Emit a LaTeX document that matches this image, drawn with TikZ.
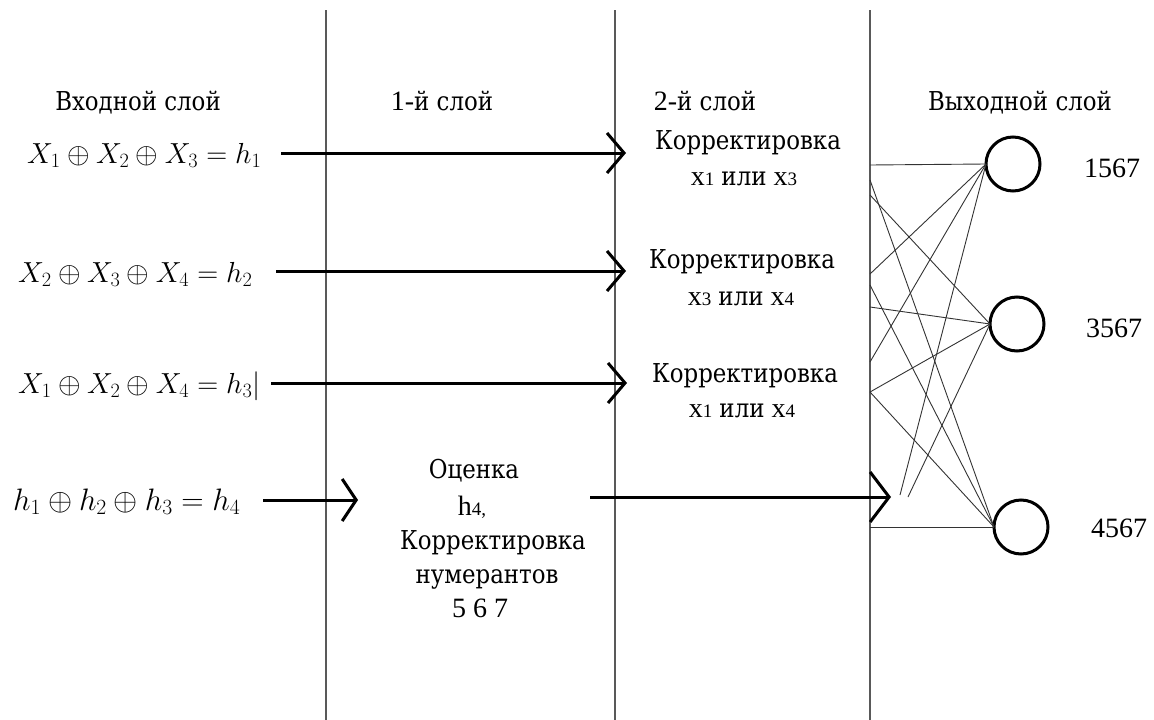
\RequirePackage{fix-cm}
\documentclass[tikz,border=0pt]{standalone}
\usepackage{fontspec}
\setmainfont{Liberation Serif}
\newfontfamily\cyr{DejaVu Serif}[FakeStretch=0.88]
\usetikzlibrary{arrows.meta}
\newcommand{\sm}[1]{{\fontsize{19}{19}\selectfont #1}}
\newcommand{\ru}[1]{{\cyr\fontsize{26}{34}\selectfont #1}}
\begin{document}
\begin{tikzpicture}[x=1pt,y=-1pt,
  txt/.style={font=\fontsize{28}{34}\selectfont, inner sep=0pt, anchor=base},
  eq/.style={font=\fontsize{29}{36}\selectfont, inner sep=0pt, anchor=base west},
  layer/.style={line width=1.3pt, draw=black!65},
  bigarrow/.style={line width=3pt, -{Straight Barb[length=17pt,width=40pt,line width=3pt]}},
  net/.style={line width=0.9pt, draw=black!80},
  neuron/.style={circle, draw, line width=3pt, minimum size=54pt, inner sep=0pt, outer sep=0pt},
]
\useasboundingbox (0,0) rectangle (1154,720);

% layer separators
\coordinate (s1t) at (326,10);  \coordinate (s1b) at (326,720);
\coordinate (s2t) at (615,10);  \coordinate (s2b) at (615,720);
\coordinate (s3t) at (870,10);  \coordinate (s3b) at (870,720);
\draw[layer] (s1t) -- (s1b);
\draw[layer] (s2t) -- (s2b);
\draw[layer] (s3t) -- (s3b);

% headers
\node[txt] (hin)  at (138,110) {\ru{Входной слой}};
\node[txt] (hl1)  at (442,110) {1-\ru{й слой}};
\node[txt] (hl2)  at (705,110) {2-\ru{й слой}};
\node[txt] (hout) at (1020,110) {\ru{Выходной слой}};

% equations
\node[eq] (e1) at (27,163) {$X_1 \oplus X_2 \oplus X_3 = h_1$};
\node[eq] (e2) at (18,282) {$X_2 \oplus X_3 \oplus X_4 = h_2$};
\node[eq] (e3) at (18,393) {$X_1 \oplus X_2 \oplus X_4 = h_3\vert$};
\node[eq, font=\fontsize{31}{36}\selectfont] (e4) at (13,510) {$h_1 \oplus h_2 \oplus h_3 = h_4$};

% second layer
\node[txt] (k1a) at (748,149) {\ru{Корректировка}};
\node[txt] (k1b) at (744,185) {x\sm{1} \ru{или} x\sm{3}};
\node[txt] (k2a) at (742,268) {\ru{Корректировка}};
\node[txt] (k2b) at (741,305) {x\sm{3} \ru{или} x\sm{4}};
\node[txt] (k3a) at (745,382) {\ru{Корректировка}};
\node[txt] (k3b) at (742,417) {x\sm{1} \ru{или} x\sm{4}};

% first layer
\node[txt] (f1) at (474,478) {\ru{Оценка}};
\node[txt] (f2) at (472,515) {h\sm{4,}};
\node[txt] (f3) at (493,549) {\ru{Корректировка}};
\node[txt] (f4) at (487,583) {\ru{нумерантов}};
\node[txt] (f5) at (480,617) {5 6 7};

% arrows
\coordinate (a1s) at (281,153); \coordinate (a1e) at (626,153);
\coordinate (a2s) at (276,271); \coordinate (a2e) at (626,271);
\coordinate (a3s) at (271,383); \coordinate (a3e) at (627,383);
\coordinate (a4s) at (263,500); \coordinate (a4e) at (358,500);
\coordinate (a5s) at (590,497); \coordinate (a5e) at (891,497);
\draw[bigarrow] (a1s) -- (a1e);
\draw[bigarrow] (a2s) -- (a2e);
\draw[bigarrow] (a3s) -- (a3e);
\draw[line width=3pt, -{Straight Barb[length=14pt,width=42pt,line width=3pt]}] (a4s) -- (a4e);
\draw[line width=3pt, -{Straight Barb[length=19pt,width=50pt,line width=3pt]}] (a5s) -- (a5e);

% output neurons
\node[neuron] (o1) at (1013,164) {};
\node[neuron] (o2) at (1017,324) {};
\node[neuron] (o3) at (1021,527) {};
\node[txt] (n1) at (1112,177) {1567};
\node[txt] (n2) at (1114,337) {3567};
\node[txt] (n3) at (1119,537) {4567};

% network connection points
\coordinate (p1) at (870,165);
\coordinate (p2) at (870,180);
\coordinate (p3) at (870,195);
\coordinate (p4) at (870,274);
\coordinate (p5) at (870,285);
\coordinate (p6) at (870,307);
\coordinate (p7) at (870,362);
\coordinate (p8) at (870,392);
\coordinate (p9) at (900,495);
\coordinate (p10) at (908,497);
\coordinate (p11) at (870,527);

\draw[net] (p1) -- (o1.180);
\draw[net] (p2) -- (o3.180);
\draw[net] (p3) -- (o2.180);
\draw[net] (p4) -- (o1.180);
\draw[net] (p5) -- (o3.180);
\draw[net] (p6) -- (o2.180);
\draw[net] (p7) -- (o1.180);
\draw[net] (p8) -- (o2.180);
\draw[net] (p8) -- (o3.180);
\draw[net] (p9) -- (o1.180);
\draw[net] (p10) -- (o2.180);
\draw[net] (p11) -- (o3.180);
\end{tikzpicture}
\end{document}
